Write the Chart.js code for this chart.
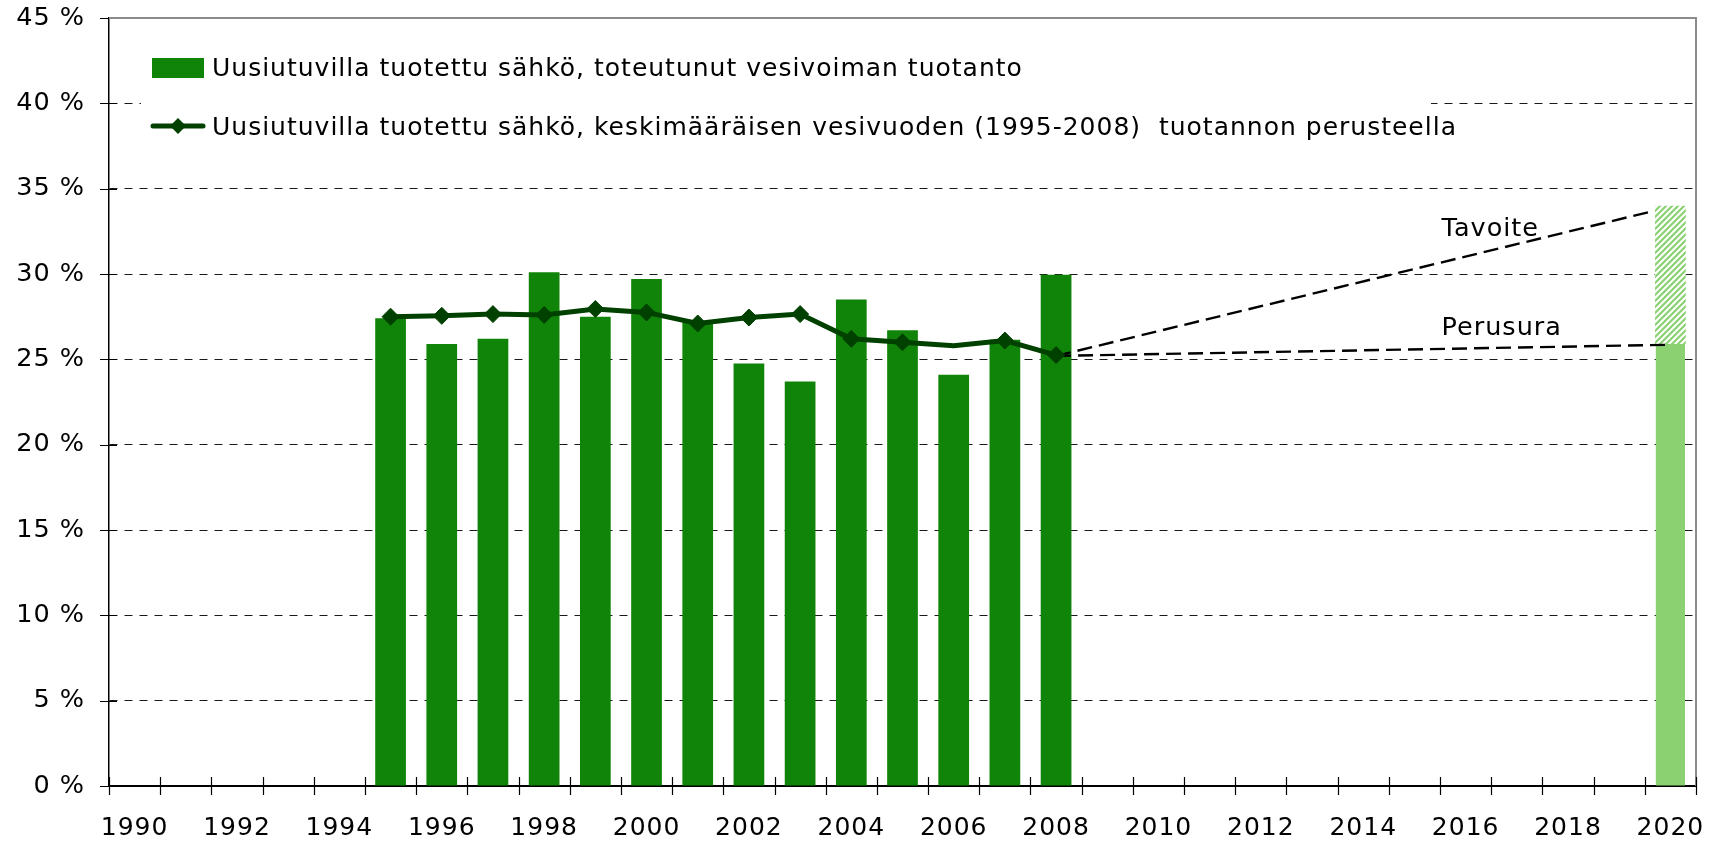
<!DOCTYPE html>
<html>
<head>
<meta charset="utf-8">
<script src="https://cdn.jsdelivr.net/npm/chart.js@4/dist/chart.umd.min.js"></script>
<style>
html,body{margin:0;padding:0;background:#fff;}
#wrap{width:1725px;height:843px;position:relative;}
</style>
</head>
<body>
<div id="wrap"><canvas id="c" width="1725" height="843"></canvas></div>
<script>
// ---- data ----
const years = ['1990','1991','1992','1993','1994','1995','1996','1997','1998','1999','2000','2001','2002','2003','2004','2005','2006','2007','2008','2009','2010','2011','2012','2013','2014','2015','2016','2017','2018','2019','2020'];
const actualShare = [null,null,null,null,null,27.4,25.9,26.2,30.1,27.5,29.7,27.2,24.75,23.7,28.5,26.7,24.1,26.15,29.95,null,null,null,null,null,null,null,null,null,null,null,null];
const avgShare = [null,null,null,null,null,27.5,27.55,27.65,27.6,27.95,27.75,27.1,27.45,27.65,26.2,26.0,25.8,26.1,25.25,null,null,null,null,null,null,null,null,null,null,null,null];
const avgMarker = [0,0,0,0,0,1,1,1,1,1,1,1,1,1,1,1,0,1,1,0,0,0,0,0,0,0,0,0,0,0,0];
const baseline2020 = [null,null,null,null,null,null,null,null,null,null,null,null,null,null,null,null,null,null,null,null,null,null,null,null,null,null,null,null,null,null,25.9];
const target2020 = [null,null,null,null,null,null,null,null,null,null,null,null,null,null,null,null,null,null,null,null,null,null,null,null,null,null,null,null,null,null,[25.9,34]];
const targetLine = [{x:2008,y:25.2},{x:2019.68,y:33.7}];
const baseLine = [{x:2008,y:25.2},{x:2019.9,y:25.85}];
const annotations = [{text:'Tavoite',x:2015.53,y:32.2},{text:'Perusura',x:2015.53,y:26.4}];
const yTicks = [0,5,10,15,20,25,30,35,40,45];
const legendLabels = ['Uusiutuvilla tuotettu sähkö, toteutunut vesivoiman tuotanto','Uusiutuvilla tuotettu sähkö, keskimääräisen vesivuoden (1995-2008)  tuotannon perusteella'];

const FONT = '"DejaVu Sans", Verdana, sans-serif';
const BAR = '#108408';
const LIGHT = '#8bd172';
const LINE = '#004100';

// hatch pattern
const pc = document.createElement('canvas');
pc.width = 6; pc.height = 6;
const px = pc.getContext('2d');
px.fillStyle = '#fff'; px.fillRect(0,0,6,6);
px.strokeStyle = LIGHT; px.lineWidth = 2.2;
px.beginPath();
px.moveTo(-1,7); px.lineTo(7,-1);
px.moveTo(-4,4); px.lineTo(4,-4);
px.moveTo(2,10); px.lineTo(10,2);
px.stroke();
const hatch = px.createPattern(pc,'repeat');

const decor = {
  id:'decor',
  beforeDraw(chart){
    chart.ctx.letterSpacing = '1px';
  },
  beforeDatasetsDraw(chart){
    const ctx = chart.ctx, a = chart.chartArea;
    ctx.save();
    ctx.fillStyle = '#fff';
    ctx.fillRect(a.left+32, a.top+22, 1290, 130);
    ctx.restore();
  },
  afterDatasetsDraw(chart){
    const ctx = chart.ctx, a = chart.chartArea;
    const ys = chart.scales.y, x2 = chart.scales.x2;
    ctx.save();
    // top & right frame
    ctx.strokeStyle = '#8c8c8c'; ctx.lineWidth = 2;
    ctx.beginPath();
    ctx.moveTo(a.left, a.top); ctx.lineTo(a.right, a.top); ctx.lineTo(a.right, a.bottom);
    ctx.stroke();
    // y ticks (crossing)
    ctx.strokeStyle = '#000'; ctx.lineWidth = 1.2;
    ctx.beginPath();
    yTicks.forEach(v => {
      const y = Math.round(ys.getPixelForValue(v)) + 0.5;
      ctx.moveTo(a.left - 9, y); ctx.lineTo(a.left + (v===45?0:8), y);
    });
    ctx.stroke();
    // x ticks between categories
    const w = (a.right - a.left) / years.length;
    ctx.beginPath();
    for (let i = 0; i <= years.length; i++) {
      const x = Math.round(a.left + i*w) + 0.5;
      ctx.moveTo(x, a.bottom - 9); ctx.lineTo(x, a.bottom + 9);
    }
    ctx.stroke();
    // annotations
    ctx.fillStyle = '#000';
    ctx.font = '25.5px ' + FONT;
    ctx.textAlign = 'left'; ctx.textBaseline = 'alphabetic';
    annotations.forEach(an => ctx.fillText(an.text, x2.getPixelForValue(an.x), ys.getPixelForValue(an.y)));
    // legend
    const lx = a.left + 43;
    const r1 = a.top + 50, r2 = a.top + 108;
    ctx.fillStyle = BAR;
    ctx.fillRect(lx, r1 - 10, 52, 20);
    ctx.strokeStyle = LINE; ctx.lineWidth = 5; ctx.lineCap = 'round';
    ctx.beginPath(); ctx.moveTo(lx+1, r2); ctx.lineTo(lx+51, r2); ctx.stroke();
    ctx.fillStyle = LINE;
    ctx.beginPath();
    ctx.moveTo(lx+26, r2-8); ctx.lineTo(lx+34, r2); ctx.lineTo(lx+26, r2+8); ctx.lineTo(lx+18, r2); ctx.closePath(); ctx.fill();
    ctx.fillStyle = '#000';
    ctx.font = '25px ' + FONT;
    ctx.textBaseline = 'middle';
    ctx.fillText(legendLabels[0], lx + 60, r1 + 1);
    ctx.fillText(legendLabels[1], lx + 60, r2 + 2);
    ctx.restore();
  }
};

new Chart(document.getElementById('c'), {
  data: {
    labels: years,
    datasets: [
      {type:'line', label:legendLabels[1], data:avgShare, borderColor:LINE, backgroundColor:LINE, borderWidth:5,
       pointStyle:'rectRot', pointRadius:avgMarker.map(m=>m?8.5:0), pointBackgroundColor:LINE, pointBorderColor:LINE, pointBorderWidth:1,
       spanGaps:false, order:0, tension:0},
      {type:'line', label:'Tavoite', xAxisID:'x2', data:targetLine, borderColor:'#000', borderWidth:2.4, borderDash:[15,7], pointRadius:0, order:1},
      {type:'line', label:'Perusura', xAxisID:'x2', data:baseLine, borderColor:'#000', borderWidth:2.4, borderDash:[15,7], pointRadius:0, order:1},
      {type:'bar', label:legendLabels[0], data:actualShare, backgroundColor:BAR, grouped:false, barPercentage:0.6, categoryPercentage:1, order:3},
      {type:'bar', label:'Perusura 2020', data:baseline2020, backgroundColor:LIGHT, grouped:false, barPercentage:0.57, categoryPercentage:1, order:3},
      {type:'bar', label:'Tavoite 2020', data:target2020, backgroundColor:hatch, grouped:false, barPercentage:0.6, categoryPercentage:1, order:3}
    ]
  },
  options: {
    responsive:false,
    animation:false,
    events:[],
    layout:{padding:{left:0, top:18, right:29, bottom:0}},
    plugins:{legend:{display:false}, tooltip:{enabled:false}},
    scales:{
      x:{
        type:'category', offset:true,
        grid:{display:false, offset:true},
        border:{display:true, color:'#000', width:2},
        ticks:{autoSkip:false, maxRotation:0, minRotation:0, padding:19, color:'#000',
          font:{family:FONT, size:25},
          callback:function(v,i){ return i%2===0 ? years[i] : ''; }},
        afterFit:function(s){ s.height = 57; s.paddingLeft = 0; s.paddingRight = 0; }
      },
      x2:{type:'linear', min:1989.5, max:2020.5, display:false},
      y:{
        min:0, max:45,
        grid:{drawTicks:false, color:ctx => (ctx.tick.value===0||ctx.tick.value===45)?'rgba(0,0,0,0)':'#1a1a1a', lineWidth:1},
        border:{display:true, color:'#000', width:1.5, dash:[8,7]},
        ticks:{stepSize:5, padding:24, color:'#000', font:{family:FONT, size:25.5},
          callback:v => v + ' %'},
        afterFit:function(s){ s.width = 109; s.paddingTop = 0; s.paddingBottom = 0; }
      }
    }
  },
  plugins:[decor]
});
</script>
</body>
</html>
